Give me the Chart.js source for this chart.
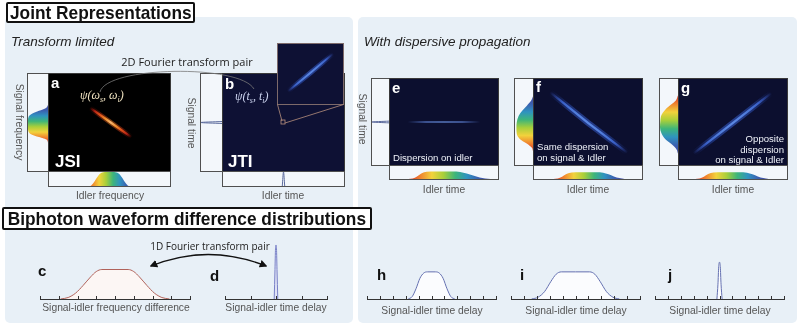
<!DOCTYPE html>
<html>
<head>
<meta charset="utf-8">
<script src="https://cdn.jsdelivr.net/npm/chart.js@4.4.1/dist/chart.umd.min.js"></script>
<style>
  body { margin: 0; background: #fff; font-family: "Liberation Sans", Arial, sans-serif; }
  #fig { position: relative; width: 800px; height: 326px; overflow: hidden; background: #fff; }
  .panel { position: absolute; background: #e8f0f7; border-radius: 5px; }
  .box { position: absolute; box-sizing: border-box; border: 1px solid #505050; background: #f3f7fb; }
  .img { position: absolute; box-sizing: border-box; border: 1px solid #3a3a3a; }
  .ttl { position: absolute; box-sizing: border-box; border: 2px solid #111; background: #fff; border-radius: 2px;
         font-weight: bold; font-size: 19px; color: #111; display: flex; align-items: center; justify-content: center; z-index: 5; }
  .ttl span { display: inline-block; transform: scaleX(0.91); white-space: nowrap; }
  .t { position: absolute; white-space: nowrap; z-index: 5; line-height: 1; }
  .lbl { position: absolute; white-space: nowrap; z-index: 5; font-size: 10.3px; color: #555; line-height: 1; transform: translate(-50%, -50%); }
  .vlbl { position: absolute; white-space: nowrap; z-index: 5; font-size: 10.3px; color: #555; line-height: 1; transform: translate(-50%, -50%) rotate(90deg); }
  .let { position: absolute; z-index: 5; font-weight: bold; font-size: 15px; line-height: 1; }
  .w { color: #fff; }
  .psi { position: absolute; z-index: 5; font-family: "Liberation Serif", "DejaVu Serif", serif; font-style: italic; font-size: 12px; line-height: 1; white-space: nowrap; }
  .psi sub { font-size: 8px; }
  .inner { position: absolute; z-index: 5; font-size: 9.6px; color: #eef1f8; line-height: 10.5px; white-space: nowrap; }
  canvas { position: absolute; z-index: 2; }
</style>
</head>
<body>
<div id="fig">
  <div class="panel" style="left:5px;top:17px;width:348px;height:306px"></div>
  <div class="panel" style="left:358px;top:17px;width:439px;height:306px"></div>

  <div class="ttl" style="left:6px;top:2px;width:189px;height:21px"><span>Joint Representations</span></div>
  <div class="ttl" style="left:2px;top:207px;width:370px;height:23px"><span>Biphoton waveform difference distributions</span></div>

  <div class="t" style="left:11px;top:35px;font-size:13.5px;font-style:italic;color:#222">Transform limited</div>
  <div class="t" style="left:364px;top:35px;font-size:13.5px;font-style:italic;color:#222">With dispersive propagation</div>
  <div class="t" style="left:187px;top:61px;font-family:'Open Sans',sans-serif;font-size:11px;color:#222;transform:translate(-50%,-50%)">2D Fourier transform pair</div>
  <div class="t" style="left:210px;top:246px;font-family:'Open Sans',sans-serif;font-size:10px;color:#222;transform:translate(-50%,-50%)">1D Fourier transform pair</div>

  <!-- a : JSI -->
  <div class="box" style="left:27px;top:73px;width:22px;height:99px"></div>
  <div class="img" style="left:48px;top:73px;width:123px;height:99px;background:#000"></div>
  <div class="box" style="left:48px;top:171px;width:123px;height:16px"></div>
  <div class="let w" style="left:51px;top:75px">a</div>
  <div class="psi" style="left:80px;top:89px;color:#efe2c0">ψ(ω<sub>s</sub>, ω<sub>i</sub>)</div>
  <div class="t w" style="left:55px;top:153px;font-weight:bold;font-size:17px">JSI</div>
  <div class="vlbl" style="left:19px;top:122px">Signal frequency</div>
  <div class="lbl" style="left:110px;top:196px">Idler frequency</div>

  <!-- b : JTI -->
  <div class="box" style="left:200px;top:73px;width:23px;height:99px"></div>
  <div class="img" style="left:222px;top:73px;width:123px;height:99px;background:#0e1134"></div>
  <div class="box" style="left:222px;top:171px;width:123px;height:16px"></div>
  <div class="img" style="left:277px;top:43px;width:67px;height:62px;background:#0e1134;border-color:#7d6a6a;z-index:2"></div>
  <div class="let w" style="left:225px;top:76px">b</div>
  <div class="psi" style="left:235px;top:90px;color:#cdd5f0">ψ(t<sub>s</sub>, t<sub>i</sub>)</div>
  <div class="t w" style="left:228px;top:153px;font-weight:bold;font-size:17px">JTI</div>
  <div class="vlbl" style="left:191px;top:123px">Signal time</div>
  <div class="lbl" style="left:283px;top:196px">Idler time</div>

  <!-- e -->
  <div class="box" style="left:371px;top:78px;width:19px;height:88px"></div>
  <div class="img" style="left:389px;top:78px;width:110px;height:88px;background:#0c0f2f"></div>
  <div class="box" style="left:389px;top:165px;width:110px;height:15px"></div>
  <div class="let w" style="left:392px;top:80px">e</div>
  <div class="inner" style="left:393px;top:153px">Dispersion on idler</div>
  <div class="vlbl" style="left:362px;top:119px">Signal time</div>
  <div class="lbl" style="left:444px;top:190px">Idler time</div>

  <!-- f -->
  <div class="box" style="left:514px;top:78px;width:20px;height:88px"></div>
  <div class="img" style="left:533px;top:78px;width:110px;height:88px;background:#0c0f2f"></div>
  <div class="box" style="left:533px;top:165px;width:110px;height:15px"></div>
  <div class="let w" style="left:536px;top:79px">f</div>
  <div class="inner" style="left:537px;top:142px">Same dispersion<br>on signal &amp; Idler</div>
  <div class="lbl" style="left:588px;top:190px">Idler time</div>

  <!-- g -->
  <div class="box" style="left:659px;top:78px;width:20px;height:88px"></div>
  <div class="img" style="left:678px;top:78px;width:110px;height:88px;background:#0c0f2f"></div>
  <div class="box" style="left:678px;top:165px;width:110px;height:15px"></div>
  <div class="let w" style="left:681px;top:80px">g</div>
  <div class="inner" style="right:16px;top:134px;text-align:right">Opposite<br>dispersion<br>on signal &amp; Idler</div>
  <div class="lbl" style="left:733px;top:190px">Idler time</div>

  <!-- bottom letters and labels -->
  <div class="let" style="left:38px;top:263px;color:#111">c</div>
  <div class="let" style="left:210px;top:268px;color:#111">d</div>
  <div class="let" style="left:377px;top:267px;color:#111">h</div>
  <div class="let" style="left:520px;top:267px;color:#111">i</div>
  <div class="let" style="left:668px;top:267px;color:#111">j</div>
  <div class="lbl" style="left:116px;top:308px">Signal-idler frequency difference</div>
  <div class="lbl" style="left:276px;top:308px">Signal-idler time delay</div>
  <div class="lbl" style="left:432px;top:311px">Signal-idler time delay</div>
  <div class="lbl" style="left:576px;top:311px">Signal-idler time delay</div>
  <div class="lbl" style="left:720px;top:311px">Signal-idler time delay</div>

  <svg width="800" height="326" style="position:absolute;left:0;top:0;z-index:4;pointer-events:none">
    <defs>
      <marker id="ah" viewBox="0 0 10 10" refX="8" refY="5" markerWidth="6" markerHeight="6" orient="auto-start-reverse">
        <path d="M0,0 L10,5 L0,10 z" fill="#111"></path>
      </marker>
    </defs>
    <path d="M100,92 C106,66 240,64 254,89" fill="none" stroke="#7a7a7a" stroke-width="0.8"></path>
    <path d="M151,266 Q208,243 266,266" fill="none" stroke="#111" stroke-width="1.3" marker-start="url(#ah)" marker-end="url(#ah)"></path>
    <line x1="277.5" y1="104.5" x2="282" y2="121" stroke="#b8907e" stroke-width="0.8"></line>
    <line x1="343.5" y1="104.5" x2="285" y2="123" stroke="#b8907e" stroke-width="0.8"></line>
    <rect x="281" y="120" width="4" height="4" fill="none" stroke="#b8907e" stroke-width="0.8"></rect>
  </svg>
</div>

<script>
// ---- data (axes normalised 0..1 inside each panel) ----
// a: joint spectral intensity streak
const jsiIdler = [0.34, 0.51, 0.68];
const jsiSignal = [0.65, 0.50, 0.35];
const jsiIdlerAxis = [0.30, 0.34, 0.37, 0.40, 0.43, 0.47, 0.50, 0.53, 0.57, 0.60, 0.63, 0.66, 0.70];
const jsiIdlerMarg = [0, 0, 0.25, 0.65, 0.92, 1, 1, 1, 0.92, 0.65, 0.25, 0, 0];
const jsiSignalAxis = [0.29, 0.32, 0.35, 0.38, 0.41, 0.44, 0.48, 0.52, 0.56, 0.59, 0.62, 0.65, 0.68];
const jsiSignalMarg = [0, 0.05, 0.45, 0.85, 0.98, 1, 1, 1, 0.97, 0.8, 0.45, 0.1, 0];

// b: joint temporal intensity (zoomed inset) + delta-like marginals
const jtiIdler = [0.15, 0.50, 0.85];
const jtiSignal = [0.21, 0.52, 0.84];
const jtiMargAxis = [0.49, 0.5, 0.51];
const jtiMarg = [0, 1, 0];

// e, f, g: after dispersion
const eIdler = [0.17, 0.50, 0.83];
const eSignal = [0.50, 0.50, 0.50];
const fIdler = [0.155, 0.50, 0.86];
const fSignal = [0.84, 0.49, 0.15];
const gIdler = [0.14, 0.50, 0.85];
const gSignal = [0.14, 0.49, 0.83];

const eIdlerAxis = [0.17, 0.21, 0.25, 0.29, 0.34, 0.42, 0.50, 0.58, 0.65, 0.71, 0.77, 0.83, 0.88, 0.93];
const eIdlerMarg = [0, 0.04, 0.2, 0.42, 0.55, 0.57, 0.57, 0.57, 0.54, 0.42, 0.26, 0.12, 0.04, 0];
const fIdlerAxis = [0.18, 0.22, 0.26, 0.30, 0.35, 0.42, 0.50, 0.58, 0.64, 0.69, 0.74, 0.79, 0.84];
const fIdlerMarg = [0, 0.04, 0.18, 0.38, 0.5, 0.52, 0.52, 0.52, 0.48, 0.36, 0.2, 0.07, 0];
const gIdlerAxis = [0.15, 0.19, 0.23, 0.27, 0.32, 0.40, 0.48, 0.56, 0.63, 0.68, 0.73, 0.78, 0.83];
const gIdlerMarg = [0, 0.04, 0.18, 0.38, 0.5, 0.52, 0.52, 0.52, 0.48, 0.36, 0.2, 0.07, 0];
const eSignalAxis = [0.49, 0.5, 0.51];
const eSignalMarg = [0, 1, 0];
const fSignalAxis = [0.16, 0.20, 0.25, 0.30, 0.36, 0.43, 0.50, 0.57, 0.63, 0.69, 0.75, 0.80];
const fSignalMarg = [0, 0.06, 0.35, 0.72, 0.9, 0.92, 0.9, 0.8, 0.6, 0.34, 0.1, 0];
const gSignalAxis = [0.13, 0.18, 0.24, 0.30, 0.37, 0.44, 0.51, 0.58, 0.64, 0.70, 0.75, 0.81];
const gSignalMarg = [0, 0.08, 0.35, 0.7, 0.92, 1, 0.98, 0.92, 0.72, 0.4, 0.12, 0];

// c, d, h, i, j: difference distributions (x in tick units, heights in common units)
const cFreq = [1.1, 1.5, 1.9, 2.3, 2.7, 3.0, 3.3, 4.0, 4.7, 5.0, 5.3, 5.7, 6.1, 6.5, 6.9];
const cDist = [0, 0.05, 0.2, 0.46, 0.75, 0.93, 1, 1, 1, 0.93, 0.75, 0.46, 0.2, 0.05, 0];
const dDelay = [1.93, 1.96, 1.98, 2.0, 2.02, 2.04, 2.07];
const dDist = [0, 1.0, 1.7, 1.83, 1.7, 1.0, 0];
const hDelay = [3.2, 3.5, 3.8, 4.1, 4.4, 4.7, 5.3, 5.6, 5.9, 6.2, 6.5, 6.8];
const hDist = [0, 0.08, 0.35, 0.7, 0.88, 0.92, 0.92, 0.88, 0.7, 0.35, 0.08, 0];
const iDelay = [1.6, 2.1, 2.6, 3.1, 3.5, 3.9, 5.0, 6.1, 6.5, 6.9, 7.4, 7.9, 8.4];
const iDist = [0, 0.06, 0.25, 0.6, 0.84, 0.92, 0.92, 0.92, 0.84, 0.6, 0.25, 0.06, 0];
const jDelay = [4.8, 4.88, 4.94, 5.0, 5.06, 5.12, 5.2];
const jDist = [0, 0.5, 1.1, 1.25, 1.1, 0.5, 0];

// ---- colours ----
const rainbow = ["#d2342a", "#f0822e", "#f2d23c", "#a8cf3a", "#3db57a", "#2f93c0", "#3b5fb0", "#4649a0"];
const rainbowRev = rainbow.slice().reverse();
const hotCore = ["rgba(140,10,0,0)", "#b8241a", "#f06a1e", "#ffc43a", "#fff2c0", "#ffc43a", "#f06a1e", "#b8241a", "rgba(140,10,0,0)"];
const hotGlow = ["rgba(160,20,0,0)", "rgba(200,50,20,0.45)", "rgba(240,120,30,0.5)", "rgba(200,50,20,0.45)", "rgba(160,20,0,0)"];
const blueCore = ["rgba(60,90,200,0)", "#3f66c8", "#6a9ae6", "#80b2f2", "#6a9ae6", "#3f66c8", "rgba(60,90,200,0)"];
const blueGlow = ["rgba(40,70,180,0)", "rgba(50,90,205,0.45)", "rgba(60,100,215,0.55)", "rgba(50,90,205,0.45)", "rgba(40,70,180,0)"];
const thinBlue = ["rgba(70,100,180,0)", "#4a66ad", "#5676bb", "#4a66ad", "rgba(70,100,180,0)"];

Chart.defaults.animation = false;
Chart.defaults.responsive = false;
Chart.defaults.events = [];
Chart.defaults.plugins.legend.display = false;
Chart.defaults.plugins.tooltip.enabled = false;

const fig = document.getElementById("fig");
function addCanvas(x, y, w, h, z) {
  const cv = document.createElement("canvas");
  cv.width = w;
  cv.height = h;
  cv.style.left = x + "px";
  cv.style.top = y + "px";
  cv.style.width = w + "px";
  cv.style.height = h + "px";
  if (z) cv.style.zIndex = z;
  fig.appendChild(cv);
  return cv;
}
const pts = (xs, ys) => xs.map((x, i) => ({ x: x, y: ys[i] }));

function addStops(g, stops) {
  stops.forEach((c, i) => g.addColorStop(i / (stops.length - 1), c));
  return g;
}

// gradient running along a streak, from its first to its last point
function streakGrad(ctx, stops) {
  const ch = ctx.chart;
  if (!ch.chartArea) return stops[Math.floor(stops.length / 2)];
  const d = ch.data.datasets[ctx.datasetIndex].data;
  const a = d[0], b = d[d.length - 1];
  const sx = ch.scales.x, sy = ch.scales.y;
  const g = ch.ctx.createLinearGradient(sx.getPixelForValue(a.x), sy.getPixelForValue(a.y),
                                        sx.getPixelForValue(b.x), sy.getPixelForValue(b.y));
  return addStops(g, stops);
}

function streakChart(rect, xs, ys, layers, z) {
  new Chart(addCanvas(rect[0], rect[1], rect[2], rect[3], z), {
    type: "line",
    data: {
      datasets: layers.map(l => ({
        data: pts(xs, ys),
        borderWidth: l.width,
        borderCapStyle: "round",
        pointRadius: 0,
        tension: 0,
        borderColor: ctx => streakGrad(ctx, l.stops),
      })),
    },
    options: {
      layout: { padding: 0 },
      scales: {
        x: { type: "linear", display: false, min: 0, max: 1 },
        y: { type: "linear", display: false, min: 0, max: 1 },
      },
    },
  });
}

// rainbow fill following the extent of the marginal shape
function margGrad(ctx, colors, vertical) {
  const ch = ctx.chart;
  if (!ch.chartArea) return colors[0];
  const d = ch.data.datasets[0].data;
  if (vertical) {
    const ys = d.map(p => p.y);
    const sy = ch.scales.y;
    const g = ch.ctx.createLinearGradient(0, sy.getPixelForValue(Math.max(...ys)), 0, sy.getPixelForValue(Math.min(...ys)));
    return addStops(g, colors);
  }
  const xs = d.map(p => p.x);
  const sx = ch.scales.x;
  const g = ch.ctx.createLinearGradient(sx.getPixelForValue(Math.min(...xs)), 0, sx.getPixelForValue(Math.max(...xs)), 0);
  return addStops(g, colors);
}

function margChart(rect, axisVals, margVals, o) {
  const vertical = !!o.vertical;
  const data = vertical ? axisVals.map((a, i) => ({ x: margVals[i], y: a })) : pts(axisVals, margVals);
  new Chart(addCanvas(rect[0], rect[1], rect[2], rect[3]), {
    type: "line",
    data: {
      datasets: [{
        data: data,
        fill: "origin",
        pointRadius: 0,
        borderWidth: o.line ? 1 : 0,
        borderColor: o.line || "rgba(0,0,0,0)",
        backgroundColor: o.colors ? ctx => margGrad(ctx, o.colors, vertical) : "rgba(0,0,0,0)",
        cubicInterpolationMode: "monotone",
      }],
    },
    options: {
      indexAxis: vertical ? "y" : "x",
      layout: { padding: 0 },
      scales: {
        x: { type: "linear", display: false, min: 0, max: vertical ? o.vmax : 1, reverse: !!o.reverse },
        y: { type: "linear", display: false, min: 0, max: vertical ? 1 : o.vmax },
      },
    },
  });
}

// small tick marks standing up from the axis line
const upTicks = {
  id: "upTicks",
  afterDraw(chart) {
    const sx = chart.scales.x, c = chart.ctx, yb = chart.chartArea.bottom;
    c.save();
    c.strokeStyle = "#333";
    c.lineWidth = 1;
    sx.ticks.forEach(t => {
      const px = Math.round(sx.getPixelForValue(t.value)) + 0.5;
      c.beginPath();
      c.moveTo(px, yb);
      c.lineTo(px, yb - 3);
      c.stroke();
    });
    c.restore();
  },
};

function distChart(left, width, xs, ys, o) {
  new Chart(addCanvas(left - 2, 240, width + 4, 62), {
    type: "line",
    data: {
      datasets: [{
        data: pts(xs, ys),
        fill: "origin",
        backgroundColor: o.fill,
        borderColor: o.stroke,
        borderWidth: 1,
        pointRadius: 0,
        cubicInterpolationMode: "monotone",
      }],
    },
    options: {
      layout: { padding: { left: 2, right: 2, top: 0, bottom: 3 } },
      scales: {
        x: {
          type: "linear", min: 0, max: o.max,
          ticks: { display: false, stepSize: 1 },
          grid: { display: false, drawTicks: false },
          border: { display: true, color: "#333", width: 1 },
        },
        y: { type: "linear", display: false, min: 0, max: 2 },
      },
    },
    plugins: [upTicks],
  });
}

// a
streakChart([48, 73, 123, 99], jsiIdler, jsiSignal, [{ width: 5, stops: hotGlow }, { width: 2.2, stops: hotCore }]);
margChart([28, 74, 20, 97], jsiSignalAxis, jsiSignalMarg, { vertical: true, reverse: true, vmax: 1, colors: rainbowRev });
margChart([49, 172, 121, 14], jsiIdlerAxis, jsiIdlerMarg, { vmax: 1, colors: rainbow });

// b
streakChart([278, 44, 65, 60], jtiIdler, jtiSignal, [{ width: 5, stops: blueGlow }, { width: 2, stops: blueCore }], 3);
margChart([201, 74, 21, 97], jtiMargAxis, jtiMarg, { vertical: true, reverse: true, vmax: 1, line: "#5b6a9c" });
margChart([223, 172, 121, 14], jtiMargAxis, jtiMarg, { vmax: 1, line: "#5b6a9c" });

// e
streakChart([389, 78, 110, 88], eIdler, eSignal, [{ width: 1.3, stops: thinBlue }]);
margChart([372, 79, 17, 86], eSignalAxis, eSignalMarg, { vertical: true, reverse: true, vmax: 1, line: "#5b6a9c" });
margChart([390, 166, 108, 13], eIdlerAxis, eIdlerMarg, { vmax: 1, colors: rainbow });

// f
streakChart([533, 78, 110, 88], fIdler, fSignal, [{ width: 6, stops: blueGlow }, { width: 2.2, stops: blueCore }]);
margChart([515, 79, 18, 86], fSignalAxis, fSignalMarg, { vertical: true, reverse: true, vmax: 1, colors: rainbowRev });
margChart([534, 166, 108, 13], fIdlerAxis, fIdlerMarg, { vmax: 1, colors: rainbow });

// g
streakChart([678, 78, 110, 88], gIdler, gSignal, [{ width: 6, stops: blueGlow }, { width: 2.2, stops: blueCore }]);
margChart([660, 79, 18, 86], gSignalAxis, gSignalMarg, { vertical: true, reverse: true, vmax: 1, colors: rainbow });
margChart([679, 166, 108, 13], gIdlerAxis, gIdlerMarg, { vmax: 1, colors: rainbow });

// c, d, h, i, j
distChart(40, 150, cFreq, cDist, { max: 8, stroke: "#b0625a", fill: "#fcf6f4" });
distChart(225, 102, dDelay, dDist, { max: 4, stroke: "#7880c6", fill: "#dfe2f6" });
distChart(367, 129, hDelay, hDist, { max: 10, stroke: "#6470b0", fill: "#fbfcfe" });
distChart(511, 129, iDelay, iDist, { max: 10, stroke: "#6470b0", fill: "#fbfcfe" });
distChart(655, 129, jDelay, jDist, { max: 10, stroke: "#6470b0", fill: "#fbfcfe" });
</script>
</body>
</html>
